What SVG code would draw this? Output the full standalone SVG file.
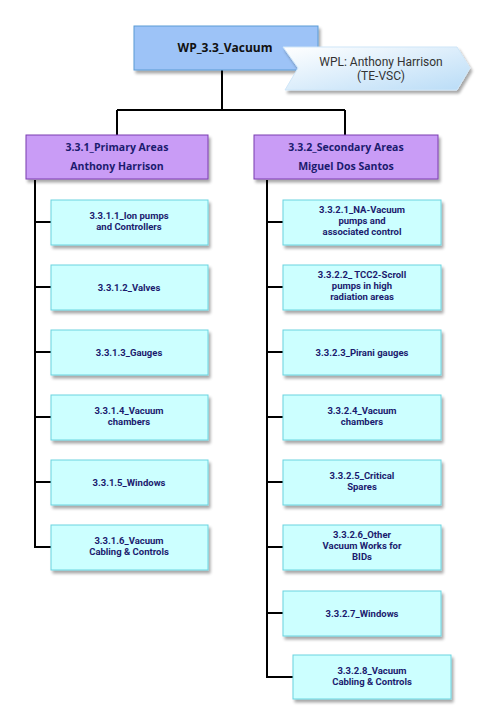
<svg xmlns="http://www.w3.org/2000/svg" width="493" height="724" viewBox="0 0 493 724">
<defs>
<filter id="sh" x="-10%" y="-10%" width="130%" height="140%">
<feGaussianBlur in="SourceAlpha" stdDeviation="1.8"/>
<feOffset dx="2" dy="3" result="b"/>
<feComponentTransfer><feFuncA type="linear" slope="0.35"/></feComponentTransfer>
<feMerge><feMergeNode/><feMergeNode in="SourceGraphic"/></feMerge>
</filter>
<linearGradient id="chev" x1="0" y1="0" x2="1" y2="1">
<stop offset="0" stop-color="#ffffff"/>
<stop offset="1" stop-color="#b9dcf7"/>
</linearGradient>
<style>
.top{fill:#9dc3f7;stroke:#5b9bd5;stroke-width:1}
.pur{fill:#c99cf6;stroke:#7a3cb0;stroke-width:1}
.leaf{fill:#ccffff;stroke:#6ad4e0;stroke-width:1}
.t{font-family:"Open Sans","DejaVu Sans",sans-serif;font-weight:bold;fill:#1b1b6e;text-anchor:middle}
.tt{font-size:12px;fill:#111}
.tp{font-size:10.5px}
.tl{font-family:Roboto,"Open Sans",sans-serif;font-size:9.5px}
.w{font-family:Roboto,"Open Sans",sans-serif;font-size:12px;fill:#333;text-anchor:middle}
.c{fill:none;stroke:#000;stroke-width:2}
</style>
</defs>
<g id="connectors">
<path class="c" d="M222 70V110M117 110H345M117 110V135M345 110V135"/>
<path class="c" d="M35 180V547H51M35 222H51M35 287H51M35 352H51M35 417H51M35 482H51"/>
<path class="c" d="M267 180V677H293M267 222H283M267 287H283M267 352H283M267 417H283M267 482H283M267 547H283M267 613H283"/>
</g>
<g id="wp">
<rect class="top" x="134" y="26" width="184" height="44" filter="url(#sh)"/>
<text class="t tt" x="225" y="52">WP_3.3_Vacuum</text>
</g>
<g id="wpl">
<path d="M283 47H457L470 68L457 90H285L298 68Z" fill="url(#chev)" stroke="#cfe6f8" stroke-width="1" filter="url(#sh)"/>
<text class="w" x="381" y="66">WPL: Anthony Harrison</text>
<text class="w" x="381" y="80.2">(TE-VSC)</text>
</g>
<g id="n331">
<rect class="pur" x="26" y="135" width="182" height="44" filter="url(#sh)"/>
<text class="t tp" x="117" y="151">3.3.1_Primary Areas</text>
<text class="t tp" x="117" y="170">Anthony Harrison</text>
</g>
<g id="n332">
<rect class="pur" x="254" y="135" width="184" height="44" filter="url(#sh)"/>
<text class="t tp" x="346" y="151">3.3.2_Secondary Areas</text>
<text class="t tp" x="346" y="170">Miguel Dos Santos</text>
</g>
<g id="n3311"><rect class="leaf" x="51" y="200" width="157" height="45" filter="url(#sh)"/>
<text class="t tl" x="129" y="219">3.3.1.1_Ion pumps</text><text class="t tl" x="129" y="230.2">and Controllers</text></g>
<g id="n3312"><rect class="leaf" x="51" y="265" width="157" height="45" filter="url(#sh)"/>
<text class="t tl" x="129" y="290.5">3.3.1.2_Valves</text></g>
<g id="n3313"><rect class="leaf" x="51" y="330" width="157" height="45" filter="url(#sh)"/>
<text class="t tl" x="129" y="355.5">3.3.1.3_Gauges</text></g>
<g id="n3314"><rect class="leaf" x="51" y="395" width="157" height="45" filter="url(#sh)"/>
<text class="t tl" x="129" y="414">3.3.1.4_Vacuum</text><text class="t tl" x="129" y="425.2">chambers</text></g>
<g id="n3315"><rect class="leaf" x="51" y="460" width="157" height="45" filter="url(#sh)"/>
<text class="t tl" x="129" y="485.5">3.3.1.5_Windows</text></g>
<g id="n3316"><rect class="leaf" x="51" y="525" width="157" height="45" filter="url(#sh)"/>
<text class="t tl" x="129" y="544">3.3.1.6_Vacuum</text><text class="t tl" x="129" y="555.2">Cabling &amp; Controls</text></g>
<g id="n3321"><rect class="leaf" x="283" y="200" width="158" height="45" filter="url(#sh)"/>
<text class="t tl" x="362" y="213">3.3.2.1_NA-Vacuum</text><text class="t tl" x="362" y="224.2">pumps and</text><text class="t tl" x="362" y="235.4">associated control</text></g>
<g id="n3322"><rect class="leaf" x="283" y="265" width="158" height="45" filter="url(#sh)"/>
<text class="t tl" x="362" y="278">3.3.2.2_ TCC2-Scroll</text><text class="t tl" x="362" y="289.2">pumps in high</text><text class="t tl" x="362" y="300.4">radiation areas</text></g>
<g id="n3323"><rect class="leaf" x="283" y="330" width="158" height="45" filter="url(#sh)"/>
<text class="t tl" x="362" y="355.5">3.3.2.3_Pirani gauges</text></g>
<g id="n3324"><rect class="leaf" x="283" y="395" width="158" height="45" filter="url(#sh)"/>
<text class="t tl" x="362" y="414">3.3.2.4_Vacuum</text><text class="t tl" x="362" y="425.2">chambers</text></g>
<g id="n3325"><rect class="leaf" x="283" y="460" width="158" height="45" filter="url(#sh)"/>
<text class="t tl" x="362" y="479">3.3.2.5_Critical</text><text class="t tl" x="362" y="490.2">Spares</text></g>
<g id="n3326"><rect class="leaf" x="283" y="525" width="158" height="45" filter="url(#sh)"/>
<text class="t tl" x="362" y="538">3.3.2.6_Other</text><text class="t tl" x="362" y="549.2">Vacuum Works for</text><text class="t tl" x="362" y="560.4">BIDs</text></g>
<g id="n3327"><rect class="leaf" x="283" y="591" width="158" height="45" filter="url(#sh)"/>
<text class="t tl" x="362" y="616.5">3.3.2.7_Windows</text></g>
<g id="n3328"><rect class="leaf" x="293" y="655" width="158" height="44" filter="url(#sh)"/>
<text class="t tl" x="372" y="673.5">3.3.2.8_Vacuum</text><text class="t tl" x="372" y="684.7">Cabling &amp; Controls</text></g>
</svg>
